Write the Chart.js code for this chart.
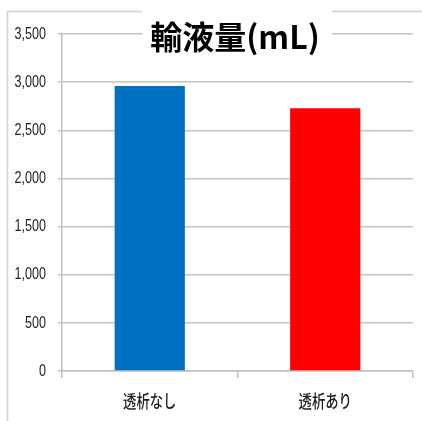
<!DOCTYPE html>
<html>
<head>
<meta charset="utf-8">
<script src="https://cdn.jsdelivr.net/npm/chart.js@4.4.1/dist/chart.umd.min.js"></script>
<style>
html, body { margin: 0; padding: 0; background: #fff; }
#wrap { width: 422px; height: 421px; }
</style>
</head>
<body>
<div id="wrap"><canvas id="fluidChart"></canvas></div>
<script>
// 輸液量 by dialysis group
var categories = ['透析なし', '透析あり'];
var volumes = [2960, 2730];
var barColors = ['#0070c0', '#ff0000'];
var chartTitle = '輸液量(mL)';

var numFont = '"Liberation Sans", sans-serif';
var jpFont = '"Noto Sans CJK JP", sans-serif';

// tick labels in the original are horizontally squeezed, so draw them by hand
// from the scales' own ticks with a narrowing transform
function squeezedText(ctx, text, x, y, sx, align) {
	ctx.save();
	ctx.translate(x, y);
	ctx.scale(sx, 1);
	ctx.textAlign = align;
	ctx.textBaseline = 'middle';
	ctx.fillText(text, 0, 0);
	ctx.restore();
}

var labelPlugin = {
	id: 'labels',
	afterDraw: function(chart) {
		var ctx = chart.ctx;
		var ys = chart.scales.y, xs = chart.scales.x;
		ctx.save();
		ctx.fillStyle = '#1e1e1e';
		ctx.font = '17px ' + numFont;
		ys.ticks.forEach(function(t) {
			squeezedText(ctx, t.value.toLocaleString('en-US'), 46, ys.getPixelForValue(t.value), 0.74, 'right');
		});
		ctx.font = '500 18px ' + jpFont;
		categories.forEach(function(c, i) {
			squeezedText(ctx, c, xs.getPixelForValue(i), 401, 0.74, 'center');
		});
		ctx.restore();
	}
};

// outer frame + title box sitting over the top gridline
var framePlugin = {
	id: 'frame',
	afterDraw: function(chart) {
		var ctx = chart.ctx;
		ctx.save();
		ctx.strokeStyle = '#d0d0d0';
		ctx.lineWidth = 1.5;
		ctx.beginPath();
		ctx.moveTo(7.5, 421);
		ctx.lineTo(7.5, 11.5);
		ctx.lineTo(422, 11.5);
		ctx.stroke();

		ctx.fillStyle = '#fff';
		ctx.fillRect(142, 0, 190, 50);
		ctx.fillStyle = '#000';
		ctx.font = 'bold 32px ' + jpFont;
		ctx.textAlign = 'center';
		ctx.textBaseline = 'middle';
		ctx.fillText(chartTitle, 235, 37);
		ctx.restore();
	}
};

var fluidConfig = {
	type: 'bar',
	data: {
		labels: categories,
		datasets: [{
			data: volumes,
			backgroundColor: barColors,
			barPercentage: 0.4,
			categoryPercentage: 1
		}]
	},
	options: {
		responsive: true,
		maintainAspectRatio: false,
		animation: false,
		layout: { padding: { left: 8, right: 9, top: 34, bottom: 0 } },
		plugins: {
			legend: { display: false },
			title: { display: false },
			tooltip: { enabled: false }
		},
		scales: {
			x: {
				grid: { display: true, drawOnChartArea: false, offset: true, tickLength: 7, color: '#bfbfbf', lineWidth: 1.5 },
				border: { display: true, color: '#bfbfbf', width: 1.5 },
				ticks: { display: false },
				afterFit: function(scale) { scale.height = 50; }
			},
			y: {
				min: 0,
				max: 3500,
				ticks: { stepSize: 500, display: false },
				grid: { color: '#c4c4c4', lineWidth: 1.5, tickLength: 4 },
				border: { display: true, color: '#bfbfbf', width: 1.5 },
				afterFit: function(scale) { scale.width = 54; }
			}
		}
	},
	plugins: [framePlugin, labelPlugin]
};

window.onload = function() {
	var ctx = document.getElementById('fluidChart').getContext('2d');
	window.fluidChart = new Chart(ctx, fluidConfig);
};
</script>
</body>
</html>
